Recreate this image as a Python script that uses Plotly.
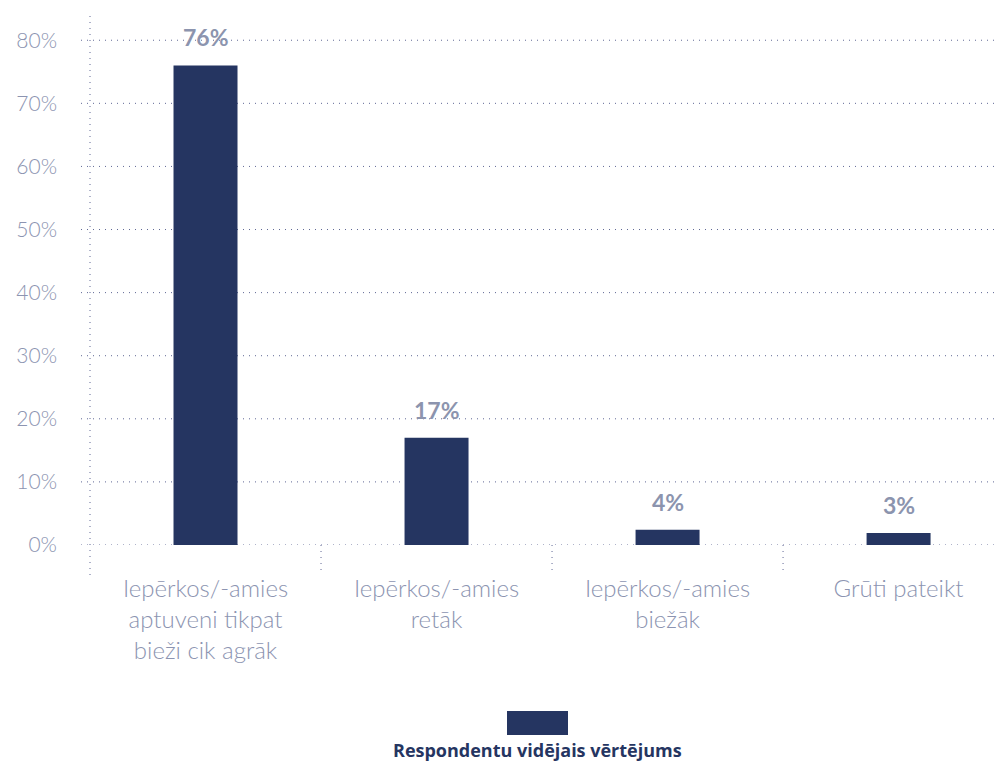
import plotly.graph_objects as go

categories = [
    "Iepērkos/-amies<br>aptuveni tikpat<br>bieži cik agrāk",
    "Iepērkos/-amies<br>retāk",
    "Iepērkos/-amies<br>biežāk",
    "Grūti pateikt",
]
values = [76, 17, 2.4, 1.9]
value_labels = ["76%", "17%", "4%", "3%"]
series_name = "Respondentu vidējais vērtējums"
y_ticks = [0, 10, 20, 30, 40, 50, 60, 70, 80]
y_tick_labels = ["0%", "10%", "20%", "30%", "40%", "50%", "60%", "70%", "80%"]

BAR = "#253561"
GRID = "#5f6794"
LABEL = "#8c94b1"
VAL = "#8c94ae"
FONT = "Lato"

fig = go.Figure()
fig.add_trace(go.Bar(
    x=list(range(len(categories))), y=values, name=series_name,
    marker=dict(color=BAR, line=dict(width=0)), width=0.277,
    showlegend=False, hoverinfo="skip",
))

for i, (v, t) in enumerate(zip(values, value_labels)):
    fig.add_annotation(x=i, y=v, text=t, showarrow=False, yanchor="bottom",
                       yshift=12, font=dict(family=FONT, size=23, color=VAL, weight="bold"))

dash = "1px,5px"
shapes = []
for t in y_ticks:
    shapes.append(dict(type="line", xref="paper", yref="y", x0=-9/916, x1=1, y0=t, y1=t,
                       line=dict(color=GRID, width=1, dash=dash), layer="below"))
shapes.append(dict(type="line", xref="paper", yref="paper", x0=0, x1=0, y0=-30/530, y1=1,
                   line=dict(color=GRID, width=1, dash=dash), layer="below"))
for b in [0.5, 1.5, 2.5]:
    shapes.append(dict(type="line", xref="x", yref="paper", x0=b, x1=b, y0=0, y1=-25/530,
                       line=dict(color=GRID, width=1, dash=dash), layer="below"))
# legend swatch
shapes.append(dict(type="rect", xref="paper", yref="paper",
                   x0=(507-90)/916, x1=(568-90)/916, y0=-(711-545)/530, y1=-(735-545)/530,
                   fillcolor=BAR, line=dict(width=0)))
fig.add_annotation(xref="paper", yref="paper", x=(537-90)/916, y=-(750-545)/530,
                   text="<b>" + series_name + "</b>", showarrow=False, yanchor="middle",
                   font=dict(family="Open Sans", size=18, color=BAR))

fig.update_layout(
    width=998, height=757,
    margin=dict(l=82, r=0, t=7, b=220),
    plot_bgcolor="white", paper_bgcolor="white",
    shapes=shapes,
    xaxis=dict(range=[-0.5, 3.465], tickvals=list(range(len(categories))),
               ticktext=categories, showgrid=False, zeroline=False, showline=False,
               ticks="", ticklabelstandoff=27,
               tickfont=dict(family=FONT, size=24, color=LABEL, weight=300)),
    yaxis=dict(range=[0, 84], tickvals=y_ticks, ticktext=y_tick_labels,
               showgrid=False, zeroline=False, showline=False, ticks="",
               ticklabelstandoff=32,
               tickfont=dict(family=FONT, size=21, color=LABEL, weight=300)),
)

fig.write_html("out.html")
